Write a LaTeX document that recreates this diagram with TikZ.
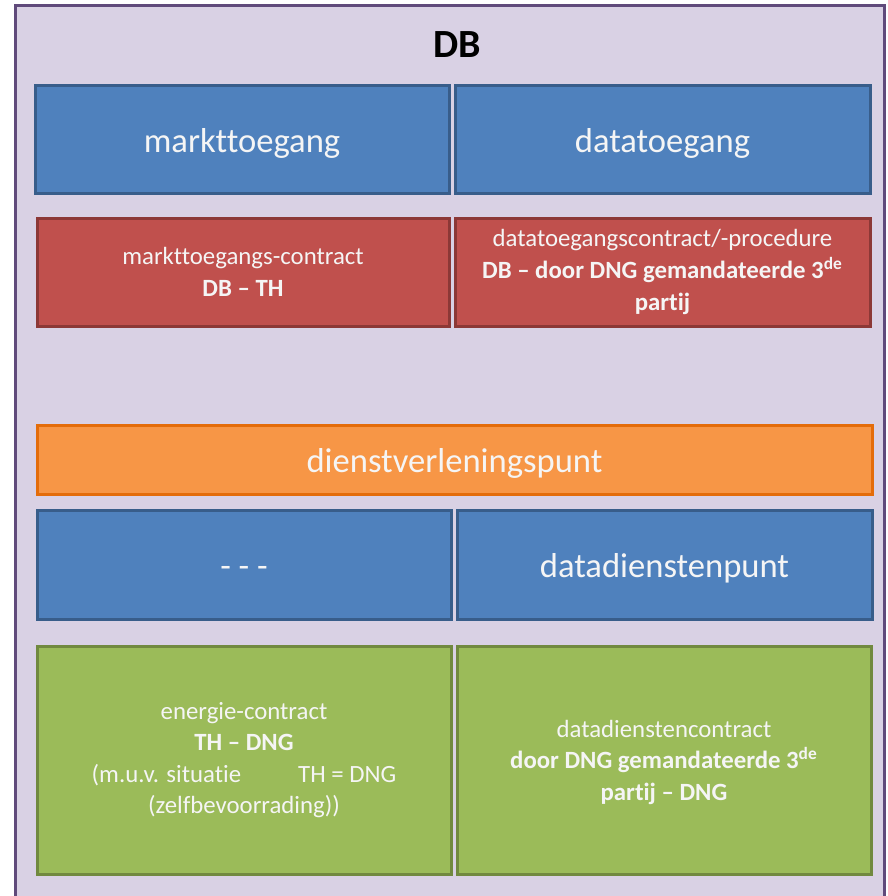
\documentclass[tikz,border=0pt]{standalone}
\usepackage{fontspec}
\setmainfont{Carlito}[Ligatures=NoCommon]
\definecolor{frameFill}{RGB}{217,209,228}
\definecolor{frameLine}{RGB}{96,74,123}
\definecolor{blueFill}{RGB}{79,129,189}
\definecolor{blueLine}{RGB}{56,93,138}
\definecolor{redFill}{RGB}{192,80,77}
\definecolor{redLine}{RGB}{140,56,54}
\definecolor{orangeFill}{RGB}{247,150,70}
\definecolor{orangeLine}{RGB}{228,108,10}
\definecolor{greenFill}{RGB}{155,187,89}
\definecolor{greenLine}{RGB}{113,137,63}
\definecolor{boxText}{RGB}{245,245,245}
\tikzset{
  panel/.style={draw, line width=1.5pt, text=boxText, align=center,
    inner sep=0pt, minimum height=#1},
  bigtext/.style={font=\fontsize{17.3}{21}\selectfont,
    text height=16.5pt, text depth=3.5pt},
  smalltext/.style={font=\fontsize{12.4}{15.8}\selectfont},
  bluebox/.style={panel=54pt, fill=blueFill, draw=blueLine, bigtext},
  redbox/.style={panel=54pt, fill=redFill, draw=redLine, smalltext},
  orangebox/.style={panel=34.5pt, fill=orangeFill, draw=orangeLine, bigtext},
  greenbox/.style={panel=114pt, fill=greenFill, draw=greenLine, smalltext}
}
\begin{document}
\begin{tikzpicture}[x=0.5pt, y=-0.5pt]
  \useasboundingbox (0,0) rectangle (888,896);
  \clip (0,0) rectangle (888,896);
  \fill[white] (0,0) rectangle (888,896);
  % outer DB frame, running off the bottom edge
  \draw[line width=1.5pt, draw=frameLine, fill=frameFill] (15,5) rectangle (884,910);
  \node[font=\fontsize{20}{24}\selectfont\bfseries] (title) at (457.5,45) {DB};

  % access row
  \node[bluebox, minimum width=207pt] (markt) at (242,139) {markttoegang};
  \node[bluebox, minimum width=207.5pt] (data) at (662.5,139) {datatoegang};

  % access contracts
  \node[redbox, minimum width=206pt] (marktc) at (243,272)
    {markttoegangs-contract\\\textbf{DB – TH}};
  \node[redbox, minimum width=207.5pt, yshift=-1pt] (datac) at (662.5,270)
    {datatoegangscontract/-procedure\\\textbf{DB – door DNG gemandateerde 3\textsuperscript{de}}\\\textbf{partij}};

  % service point
  \node[orangebox, minimum width=417.5pt] (dvp) at (454.5,459.5) {dienstverleningspunt};

  % service row
  \node[bluebox, minimum width=207pt, minimum height=54.5pt] (none) at (244,564.5) {- - -};
  \node[bluebox, minimum width=207.5pt, minimum height=54.5pt] (ddp) at (664.5,564.5) {datadienstenpunt};

  % service contracts
  \node[greenbox, minimum width=207pt] (energy) at (244,760)
    {energie-contract\\\textbf{TH – DNG}\\(m.u.v. situatie\hspace{2.3em}TH = DNG\\(zelfbevoorrading))};
  \node[greenbox, minimum width=207pt, text depth=0pt] (ddc) at (664,760)
    {datadienstencontract\\\textbf{door DNG gemandateerde 3\textsuperscript{de}}\\\textbf{partij – DNG}};
\end{tikzpicture}
\end{document}
